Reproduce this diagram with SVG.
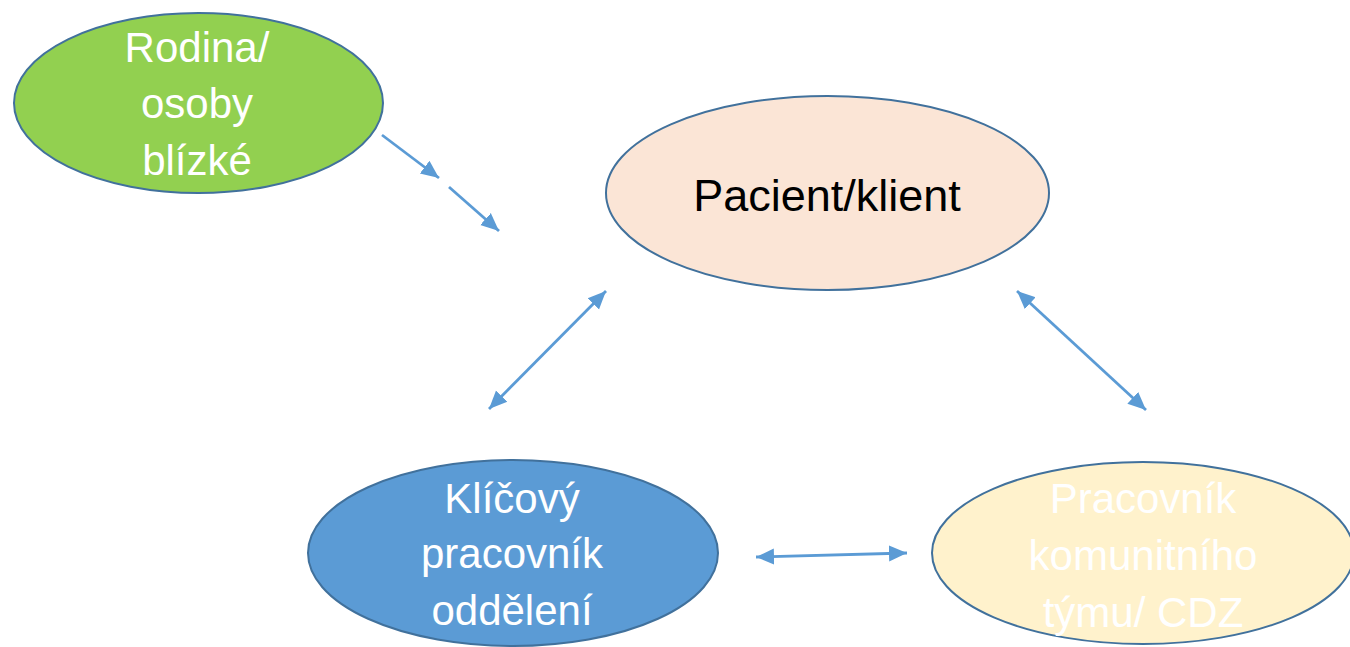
<svg xmlns="http://www.w3.org/2000/svg" width="1350" height="647" viewBox="0 0 1350 647">
<defs>
<style>
.node ellipse{stroke:#41719C;stroke-width:2}
.t{font-family:"Liberation Sans",Arial,sans-serif;font-size:42px;text-anchor:middle}
.big{font-size:45px}
.w{fill:#FFFFFF}
.k{fill:#000000}
.c line{stroke:#5B9BD5;stroke-width:2.8;fill:none}
</style>
<marker id="ah" markerUnits="userSpaceOnUse" markerWidth="20" markerHeight="18" refX="18" refY="8" orient="auto-start-reverse" viewBox="0 0 20 16">
<path d="M0,0 L18,8 L0,16 Z" fill="#5B9BD5"/>
</marker>
</defs>
<rect width="1350" height="647" fill="#FFFFFF"/>
<g id="connectors" class="c">
<line x1="382" y1="135" x2="439" y2="178" marker-end="url(#ah)"/>
<line x1="449" y1="187" x2="499" y2="231" marker-end="url(#ah)"/>
<line x1="489" y1="409" x2="606" y2="291" marker-start="url(#ah)" marker-end="url(#ah)"/>
<line x1="1017" y1="291" x2="1146" y2="410" marker-start="url(#ah)" marker-end="url(#ah)"/>
<line x1="756" y1="557" x2="907" y2="553" marker-start="url(#ah)" marker-end="url(#ah)"/>
</g>
<g id="rodina" class="node">
<ellipse cx="198.5" cy="103" rx="184.5" ry="90" fill="#92D050"/>
<text class="t w" x="197" y="62">Rodina/</text>
<text class="t w" x="197" y="118">osoby</text>
<text class="t w" x="197" y="175">blízké</text>
</g>
<g id="pacient" class="node">
<ellipse cx="827.5" cy="193" rx="221.5" ry="97" fill="#FBE5D6"/>
<text class="t big k" x="827" y="211">Pacient/klient</text>
</g>
<g id="klicovy" class="node">
<ellipse cx="513" cy="553" rx="205" ry="93" fill="#5B9BD5"/>
<text class="t w" x="512" y="513">Klíčový</text>
<text class="t w" x="512" y="568">pracovník</text>
<text class="t w" x="512" y="625">oddělení</text>
</g>
<g id="pracovnik" class="node">
<ellipse cx="1143" cy="553" rx="211" ry="91" fill="#FFF2CC"/>
<text class="t w" x="1143" y="513">Pracovník</text>
<text class="t w" x="1143" y="570">komunitního</text>
<text class="t w" x="1143" y="627">týmu/ CDZ</text>
</g>
</svg>
